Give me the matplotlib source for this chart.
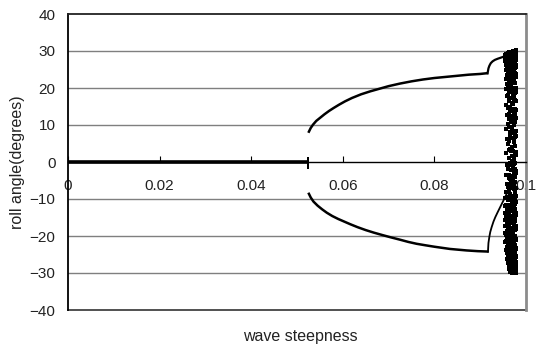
import matplotlib
matplotlib.use('Agg')
import matplotlib.pyplot as plt

plt.rcParams['font.family'] = ['Liberation Sans', 'DejaVu Sans']

# steady (unheeled) response before the bifurcation
zero_x = [0.0, 0.0525]
zero_y = [0.0, 0.0]

# small spread of points right at the bifurcation
bif_x = [0.0525, 0.0525, 0.0525, 0.0525, 0.0525, 0.0525, 0.0525]
bif_y = [-1.6, -1.1, -0.6, 0.0, 0.5, 0.9, 1.2]

# upper and lower stable branches
upper_x = [0.0526, 0.0530, 0.0535, 0.0542, 0.0550, 0.0560, 0.0570, 0.0580,
           0.0592, 0.0605, 0.0620, 0.0640, 0.0660, 0.0680, 0.0700, 0.0725,
           0.0750, 0.0775, 0.0800, 0.0825, 0.0850, 0.0875, 0.0900, 0.0915]
upper_y = [8.2, 9.2, 10.1, 11.1, 11.9, 12.9, 13.8, 14.6,
           15.5, 16.4, 17.3, 18.3, 19.1, 19.8, 20.5, 21.2,
           21.8, 22.3, 22.7, 23.0, 23.3, 23.6, 23.8, 24.0]
lower_x = [0.0526, 0.0530, 0.0536, 0.0545, 0.0555, 0.0565, 0.0577, 0.0590,
           0.0603, 0.0616, 0.0632, 0.0650, 0.0668, 0.0688, 0.0706, 0.0725,
           0.0743, 0.0761, 0.0780, 0.0800, 0.0817, 0.0834, 0.0852, 0.0870,
           0.0895, 0.0916]
lower_y = [-8.6, -9.6, -10.7, -11.8, -12.8, -13.7, -14.6, -15.4,
           -16.1, -16.8, -17.6, -18.4, -19.1, -19.8, -20.4, -21.0,
           -21.6, -22.1, -22.5, -22.9, -23.2, -23.5, -23.7, -23.9,
           -24.1, -24.2]

# branches after the jump near 0.092
upper2_x = [0.0916, 0.0917, 0.0918, 0.0920, 0.0923, 0.0927, 0.0932, 0.0938,
            0.0945, 0.0952, 0.0958]
upper2_y = [24.0, 24.6, 25.3, 26.0, 26.7, 27.2, 27.6, 27.9, 28.2, 28.5, 28.8]
lower2_x = [0.0917, 0.09175, 0.0918, 0.0920, 0.0922, 0.0925, 0.0929, 0.0933,
            0.0938, 0.0944, 0.0950, 0.0957, 0.0964, 0.0972]
lower2_y = [-24.2, -23.0, -21.9, -20.2, -18.9, -17.6, -16.1, -14.9,
            -13.6, -12.1, -10.6, -8.8, -7.0, -5.1]

# chaotic region: sampled roll angles per wave steepness
chaos_steep = [0.0955, 0.0957, 0.0959, 0.0961, 0.0963, 0.0965,
               0.0967, 0.0969, 0.0971, 0.0973, 0.0975, 0.0977, 0.0979,
               0.0962, 0.0966, 0.0970, 0.0974, 0.0978]
chaos_roll = [
    [28.9, 28.5, 27.9, 27.2, -9.6, -11.9, -13.8, -15.7, -17.4, -19.1, -21.6],
    [29.1, 28.4, 27.6, 26.2, 24.8, 22.5, 19.7, 15.3, 8.9, 2.4, -3.6, -8.2,
     -11.5, -14.9, -17.2, -19.8, -21.4, -23.9],
    [29.3, 28.8, 28.0, 27.1, 25.5, 23.6, 21.2, 17.8, 12.6, 6.1, -0.7, -5.9,
     -9.4, -12.8, -16.1, -18.6, -20.7, -22.9, -24.6, -26.3],
    [29.5, 28.9, 28.2, 27.4, 26.3, 24.1, 22.8, 20.4, 18.1, 14.7, 10.2, 4.8,
     -1.9, -6.7, -10.3, -13.6, -15.8, -18.4, -20.2, -22.1, -24.3, -25.8, -27.2],
    [29.6, 29.0, 28.5, 27.8, 26.9, 25.7, 23.9, 21.6, 19.3, 16.4, 13.1, 9.5,
     5.7, 1.2, -3.4, -7.8, -11.6, -14.2, -17.5, -19.6, -21.8, -23.7, -25.1,
     -26.6, -27.9, -29.0],
    [29.7, 29.2, 28.6, 27.9, 27.0, 25.2, 24.4, 22.0, 20.6, 17.3, 15.0, 11.8,
     7.4, 3.6, -0.9, -4.5, -8.7, -12.4, -15.1, -18.0, -20.9, -22.6, -24.0,
     -25.5, -26.8, -27.7, -28.6, -29.5],
    [29.8, 29.3, 28.7, 28.1, 26.6, 23.2, 21.1, 18.8, 14.2, 10.7, 6.5, 2.9,
     -2.2, -5.8, -9.9, -13.3, -16.6, -19.2, -21.3, -23.1, -24.7, -26.1,
     -27.3, -28.2, -29.1, -29.8],
    [29.8, 29.4, 28.9, 27.6, 25.9, 22.7, 19.9, 16.0, 12.3, 8.6, 4.1, 0.3,
     -3.9, -7.1, -11.0, -14.6, -17.9, -20.4, -22.3, -23.9, -25.3, -26.4,
     -27.5, -28.5, -29.3, -30.0],
    [29.9, 29.5, 29.0, 28.3, 26.1, 24.6, 21.7, 18.3, 15.6, 11.1, 7.9, 3.0,
     -1.4, -5.2, -9.1, -12.9, -16.3, -18.9, -21.0, -22.8, -24.4, -25.9,
     -27.1, -28.0, -28.9, -29.7],
    [30.0, 29.6, 29.1, 28.4, 27.3, 25.0, 23.4, 20.1, 17.0, 13.6, 9.9, 5.3,
     0.8, -2.7, -6.3, -10.6, -14.0, -17.0, -19.9, -22.0, -23.6, -25.0,
     -26.3, -27.6, -28.7, -29.6],
    [30.1, 29.7, 29.2, 28.6, 27.7, 26.4, 24.0, 21.4, 18.6, 14.4, 10.8, 6.8,
     2.2, -1.8, -5.5, -9.6, -12.6, -15.9, -18.3, -20.6, -22.5, -24.2,
     -25.7, -27.0, -28.1, -29.0, -29.9],
    [30.1, 29.7, 29.3, 28.8, 28.0, 26.8, 25.4, 22.9, 19.2, 16.7, 12.9, 8.2,
     4.4, -0.4, -4.0, -8.0, -11.4, -14.8, -17.7, -20.1, -22.4, -24.5,
     -26.2, -27.6, -28.8, -29.7],
    [30.2, 29.8, 29.3, 28.7, 27.5, 25.8, 23.0, 20.0, 16.5, 12.0, 7.0, 1.8,
     -2.5, -6.9, -10.8, -14.4, -18.1, -21.2, -23.5, -25.6, -27.4, -28.9, -30.0],
    [29.2, 28.6, 27.7, 26.5, 25.0, 22.1, 16.9, 11.5, 3.3, -4.2, -9.8, -14.1,
     -17.9, -20.8, -23.2, -25.0, -26.7, -28.1],
    [29.4, 28.8, 28.1, 26.8, 24.2, 20.9, 13.7, 8.0, -0.2, -6.1, -12.0, -16.4,
     -19.6, -22.0, -24.1, -25.8, -27.4, -28.8, -29.7],
    [29.6, 29.1, 28.3, 27.2, 25.6, 21.9, 15.8, 9.4, 1.5, -4.9, -10.1, -15.4,
     -18.8, -21.9, -24.0, -25.9, -27.2, -28.4, -29.4, -30.1],
    [29.8, 29.3, 28.5, 27.4, 25.3, 22.3, 17.6, 11.9, 5.9, -0.6, -7.4, -12.2,
     -16.9, -20.3, -23.0, -25.2, -26.9, -28.3, -29.2, -30.0],
    [30.0, 29.5, 28.8, 27.9, 26.2, 23.7, 19.0, 14.1, 8.5, 2.6, -3.1, -9.2,
     -13.8, -17.3, -20.7, -23.3, -25.4, -27.0, -28.4, -29.5],
]

x_ticks = [0, 0.02, 0.04, 0.06, 0.08, 0.1]
x_tick_labels = ['0', '0.02', '0.04', '0.06', '0.08', '0.1']
y_ticks = [-40, -30, -20, -10, 0, 10, 20, 30, 40]

fig = plt.figure(figsize=(5.37, 3.47), dpi=100)
ax = fig.add_axes([68 / 537, 37 / 347, 458 / 537, 296 / 347])

ax.set_xlim(0, 0.1)
ax.set_ylim(-40, 40)

for y in y_ticks:
    if y not in (0, -40, 40):
        ax.axhline(y, color='#7f7f7f', lw=1.0, zorder=1)
ax.axhline(-40, color='#333333', lw=1.2, zorder=1, clip_on=False)

ax.plot(zero_x, zero_y, color='black', lw=2.6, solid_capstyle='butt', zorder=4)
ax.plot(bif_x, bif_y, 's', color='black', ms=2.0, mew=0, zorder=4)
ax.plot(upper_x, upper_y, color='black', lw=1.8, zorder=4)
ax.plot(lower_x, lower_y, color='black', lw=1.8, zorder=4)
ax.plot(upper2_x, upper2_y, color='black', lw=1.6, zorder=4)
ax.plot(lower2_x, lower2_y, color='black', lw=1.3, zorder=4)
for xs, ys in zip(chaos_steep, chaos_roll):
    ax.plot([xs] * len(ys), ys, 's', color='black', ms=2.5, mew=0, zorder=4)

# x axis crosses at zero roll, ticks pointing up
ax.spines['bottom'].set_position(('data', 0))
ax.spines['bottom'].set_linewidth(1.0)
ax.spines['left'].set_linewidth(1.3)
ax.spines['top'].set_color('#222222')
ax.spines['top'].set_linewidth(1.3)
ax.spines['right'].set_color('#8c8c8c')
ax.spines['right'].set_linewidth(2.0)

ax.set_xticks(x_ticks)
ax.set_xticklabels(x_tick_labels)
ax.set_yticks(y_ticks)
ax.tick_params(axis='x', direction='in', length=4, width=0.8, pad=12,
               labelsize=11, labelcolor='#222222')
ax.tick_params(axis='y', length=0, pad=9, labelsize=11, labelcolor='#222222')

fig.text(300 / 537, 1 - 337 / 347, 'wave steepness', ha='center', va='center',
         fontsize=11.5, color='#222222')
fig.text(18 / 537, 1 - 162 / 347, 'roll angle(degrees)', ha='center', va='center',
         rotation=90, fontsize=11.5, color='#222222')

fig.savefig('out.png', dpi=100)
